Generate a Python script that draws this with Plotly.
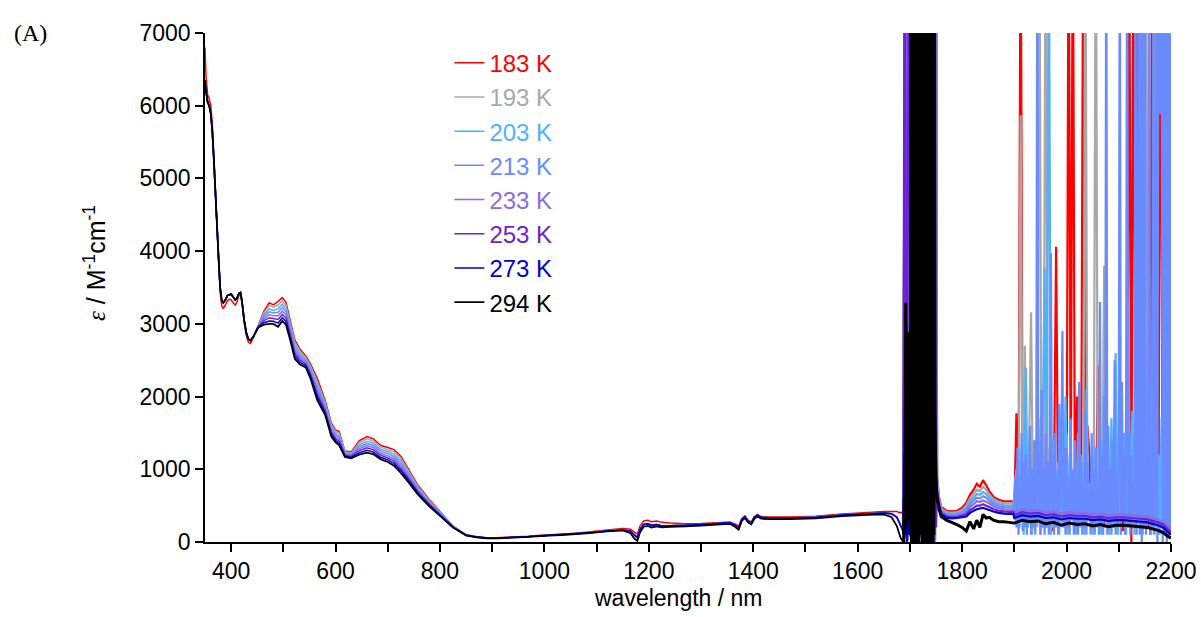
import plotly.graph_objects as go

# legend order (coldest first)
temps = ['183 K', '193 K', '203 K', '213 K', '233 K', '253 K', '273 K', '294 K']
colors = ['#FF0000', '#A8A8A8', '#4FB0FF', '#6A8BFF', '#8C6CE0', '#6B22D6', '#0000CC', '#000000']

# ---- UV edge, 350-437 nm
wl_uv = [350, 352, 355, 358, 361, 364, 367, 370, 373, 376, 379, 382, 385, 389,
         393, 397, 400, 404, 408, 411, 415, 418, 421, 425, 429, 433, 437]
eps_uv_183 = [6800, 6400, 6150, 6100, 6000, 5750, 5300, 4850, 4350, 3900, 3450, 3250, 3210, 3260,
              3320, 3340, 3330, 3290, 3260, 3300, 3390, 3420, 3280, 3020, 2840, 2750, 2730]
eps_uv = [6350, 6200, 6050, 6000, 5900, 5650, 5250, 4800, 4350, 3900, 3500, 3320, 3290, 3330,
          3390, 3400, 3410, 3370, 3330, 3350, 3420, 3430, 3300, 3050, 2880, 2790, 2770]

# ---- visible bands, 442-850 nm (temperature dependent)
wl_vis = [442, 452, 463, 473, 481, 490, 498, 505, 513, 522, 532, 543, 552, 565, 580, 592, 600,
          607, 618, 630, 645, 660, 672, 686, 700, 712, 725, 740, 758, 778, 800, 825, 850]
eps_vis_183 = [2800, 2980, 3180, 3290, 3260, 3310, 3360, 3300, 3050, 2780, 2650, 2560, 2450, 2250, 1950, 1640, 1540,
               1520, 1250, 1240, 1390, 1450, 1420, 1330, 1300, 1270, 1180, 1000, 780, 600, 420, 220, 100]
eps_vis_193 = [2805, 2975, 3155, 3250, 3225, 3260, 3315, 3255, 3010, 2745, 2620, 2535, 2420, 2205, 1920, 1615, 1515,
               1495, 1240, 1225, 1365, 1420, 1390, 1305, 1270, 1240, 1145, 975, 760, 585, 410, 215, 100]
eps_vis_203 = [2805, 2970, 3125, 3205, 3185, 3210, 3270, 3210, 2975, 2705, 2590, 2515, 2395, 2165, 1895, 1585, 1490,
               1465, 1225, 1215, 1335, 1385, 1360, 1275, 1245, 1205, 1115, 950, 745, 570, 405, 215, 95]
eps_vis_213 = [2810, 2965, 3100, 3165, 3150, 3160, 3225, 3165, 2935, 2670, 2560, 2490, 2365, 2120, 1865, 1560, 1465,
               1440, 1215, 1200, 1310, 1355, 1330, 1250, 1215, 1175, 1080, 925, 725, 555, 395, 210, 95]
eps_vis_233 = [2810, 2965, 3070, 3125, 3110, 3110, 3175, 3125, 2895, 2630, 2530, 2470, 2335, 2080, 1835, 1530, 1445,
               1410, 1205, 1190, 1280, 1325, 1300, 1220, 1185, 1145, 1050, 895, 705, 545, 385, 210, 95]
eps_vis_253 = [2815, 2960, 3045, 3085, 3075, 3060, 3130, 3080, 2855, 2595, 2500, 2445, 2305, 2035, 1805, 1505, 1420,
               1385, 1195, 1175, 1255, 1295, 1270, 1195, 1155, 1115, 1015, 870, 685, 530, 375, 205, 95]
eps_vis_273 = [2815, 2955, 3015, 3040, 3035, 3010, 3085, 3035, 2820, 2555, 2470, 2425, 2280, 1995, 1780, 1475, 1395,
               1355, 1180, 1165, 1225, 1260, 1240, 1165, 1130, 1080, 985, 845, 670, 515, 370, 205, 90]
eps_vis_294 = [2820, 2950, 2990, 3000, 3000, 2960, 3040, 2990, 2780, 2520, 2440, 2400, 2250, 1950, 1750, 1450, 1370,
               1330, 1170, 1150, 1200, 1230, 1210, 1140, 1100, 1050, 950, 820, 650, 500, 360, 200, 90]

# ---- NIR, 870-1687 nm
wl_nir = [870, 890, 910, 940, 970, 1000, 1040, 1080, 1120, 1150, 1165, 1172, 1178, 1183, 1190, 1198,
          1205, 1215, 1225, 1240, 1270, 1300, 1330, 1355, 1365, 1372, 1378, 1384, 1390, 1396, 1402,
          1408, 1415, 1430, 1470, 1520, 1570, 1620, 1650, 1665, 1675, 1682, 1687]
eps_nir_183 = [75, 60, 60, 70, 80, 95, 110, 135, 165, 185, 175, 140, 110, 220, 290, 300,
               280, 290, 270, 260, 250, 255, 265, 275, 250, 220, 320, 360, 300, 275, 350,
               380, 350, 345, 345, 355, 385, 405, 420, 420, 420, 400, 420]
eps_nir = [70, 55, 55, 65, 75, 90, 105, 125, 150, 165, 150, 100, 60, 170, 240, 250,
           230, 240, 220, 225, 230, 240, 255, 265, 235, 200, 310, 350, 290, 260, 340,
           370, 340, 330, 330, 340, 370, 390, 400, 390, 340, 230, 150]
eps_nir_294 = [65, 50, 50, 60, 70, 85, 100, 120, 145, 160, 120, 50, 15, 130, 210, 220,
               200, 215, 200, 210, 215, 225, 240, 250, 210, 170, 290, 330, 270, 240, 320,
               350, 320, 315, 315, 325, 355, 375, 380, 340, 220, 60, 0]

# ---- detector-saturated band, 1688-1751 nm
wl_band = list(range(1688, 1751, 2))
eps_band = [700, 9000, 60, 9000, 20, 9000, 80, 9000, 10, 9000, 40, 9000, 0, 9000, 30, 9000,
            70, 9000, 10, 9000, 50, 9000, 0, 9000, 20, 9000, 60, 9000, 30, 9000, 10, 9000]
wl_band_253 = list(range(1690, 1751, 4))
eps_band_253 = [9000, 100, 9000, 50, 9000, 0, 9000, 150, 9000, 20, 9000, 80, 9000, 0, 9000, 200]
wl_band_fine = list(range(1688, 1752))
eps_band_273 = [100, 1200, 300, 2600, 100, 3000, 0, 1800, 200, 2400, 100, 1500, 300, 2500, 100, 1500,
                0, 9000, 9000, 200, 1800, 0, 1200, 100, 2200, 0, 900, 100, 1600, 0, 1100, 200,
                9000, 9000, 100, 1500, 0, 800, 200, 2000, 0, 1300, 100, 700, 0, 9000, 9000, 200,
                1400, 0, 1000, 100, 2300, 0, 900, 100, 1700, 0, 1200, 9000, 1500, 1000, 800, 650]
eps_band_294 = [0, 600, 100, 1500, 3290, 200, 1200, 400, 2000, 300, 2890, 500, 400, 100, 9000, 0,
                9000, 200, 300, 9000, 0, 9000, 100, 9000, 0, 9000, 50, 9000, 0, 9000, 100, 9000,
                200, 100, 9000, 0, 9000, 50, 9000, 0, 9000, 100, 9000, 0, 9000, 200, 300, 9000,
                0, 9000, 100, 9000, 0, 9000, 50, 9000, 0, 9000, 100, 9000, 1800, 1200, 900, 700]

# ---- 1752-1898 nm
wl_post = [1752, 1756, 1760, 1770, 1780, 1790, 1800, 1808, 1815, 1822, 1828, 1834, 1840, 1846,
           1852, 1860, 1870, 1880, 1890, 1898]
eps_post_183 = [900, 600, 480, 430, 420, 430, 470, 540, 650, 720, 800, 760, 850, 780, 700, 620, 580, 560, 560, 560]
eps_post_193 = [850, 580, 460, 410, 400, 410, 440, 500, 600, 660, 720, 700, 760, 720, 650, 590, 550, 530, 530, 530]
eps_post_203 = [800, 560, 440, 395, 385, 395, 420, 470, 560, 610, 660, 650, 690, 660, 610, 560, 520, 505, 500, 500]
eps_post_213 = [780, 540, 425, 380, 370, 380, 400, 440, 520, 570, 610, 600, 630, 610, 570, 530, 495, 480, 475, 475]
eps_post_233 = [750, 520, 410, 365, 355, 360, 380, 410, 480, 520, 560, 550, 570, 555, 530, 495, 465, 450, 445, 445]
eps_post_253 = [700, 500, 395, 350, 340, 345, 360, 380, 440, 470, 500, 500, 520, 500, 480, 455, 430, 420, 415, 415]
eps_post_273 = [650, 480, 380, 335, 325, 330, 340, 350, 400, 430, 450, 460, 470, 455, 440, 420, 400, 390, 385, 385]
eps_post_294 = [600, 450, 350, 300, 270, 240, 200, 150, 280, 180, 300, 200, 380, 330, 340, 300, 280, 280, 270, 260]

# ---- noisy tail 1900-2200 nm, cold series
wl_noise = list(range(1900, 2201, 4))
eps_noise_183 = [450, 1770, 300, 9000, 500, 1830, 350, 900, 250, 700,
                 400, 1100, 300, 800, 200, 1200, 350, 700, 150, 900,
                 4060, 300, 1300, 400, 600, 250, 9000, 500, 9000, 400,
                 2000, 300, 800, 9000, 350, 1600, 1170, 200, 700, 300,
                 2430, 400, 600, 200, 800, 350, 500, 960, 200, 500,
                 300, 700, 150, 600, 300, 9000, 0, 9000, 400, 9000,
                 300, 1200, 400, 800, 200, 600, 9000, 300, 1000, 300,
                 9000, 400, 700, 200, 300, 150]
eps_noise_193 = [600, 1000, 300, 5870, 400, 2700, 200, 1200, 3160, 300,
                 800, 200, 9000, 400, 1000, 9000, 300, 1300, 200, 700,
                 400, 1100, 200, 800, 300, 1500, 200, 600, 300, 1000,
                 200, 700, 300, 500, 9000, 400, 800, 200, 600, 9000,
                 300, 1200, 200, 3800, 300, 800, 200, 1000, 300, 700,
                 200, 1300, 300, 900, 200, 1500, 300, 1000, 200, 800,
                 300, 1600, 200, 9000, 300, 1100, 200, 9000, 300, 1200,
                 200, 700, 300, 900, 200, 300]
wl_noise_203 = list(range(1902, 2199, 4))
eps_noise_203 = [300, 1100, 200, 1300, 100, 2400, 200, 1500, 100, 1000,
                 300, 1700, 100, 1200, 3760, 200, 9000, 100, 1400, 300,
                 1000, 100, 1600, 200, 2000, 100, 1200, 300, 900, 100,
                 1500, 200, 1100, 100, 2100, 300, 800, 100, 1300, 200,
                 1000, 100, 1400, 300, 900, 100, 1700, 200, 2600, 100,
                 1100, 300, 1500, 100, 3300, 200, 1800, 100, 2200, 300,
                 1400, 100, 2700, 200, 1600, 100, 2000, 300, 1200, 100,
                 1700, 200, 900, 100, 300]
wl_noise_213 = list(range(1900, 2201, 2))
eps_noise_213 = [500, 900, 200, 1300, 100, 800, 300, 1500, 150, 1100,
                 200, 1200, 100, 900, 300, 1600, 100, 1000, 200, 1400,
                 100, 800, 9000, 300, 1200, 100, 2090, 200, 1000, 100,
                 1500, 200, 1100, 100, 800, 3970, 300, 1200, 100, 1500,
                 200, 900, 100, 1900, 300, 1100, 2900, 200, 1300, 100,
                 1300, 200, 800, 100, 1700, 300, 1000, 100, 1400, 200,
                 900, 100, 2200, 300, 1200, 100, 800, 200, 1800, 100,
                 1100, 300, 700, 100, 1500, 200, 1000, 100, 1300, 300,
                 800, 100, 3300, 200, 1200, 100, 2000, 300, 9000, 100,
                 1600, 200, 1000, 100, 1400, 300, 2500, 100, 900, 200,
                 1500, 9000, 100, 2200, 300, 1200, 100, 1800, 9000, 200,
                 1500, 100, 1200, 300, 800, 200, 9000, 100, 600, 9000,
                 100, 9000, 0, 9000, 200, 9000, 100, 1500, 300, 9000,
                 100, 800, 200, 9000, 100, 600, 9000, 0, 9000, 5900,
                 5900, 9000, 0, 9000, 100, 9000, 0, 9000, 50, 9000,
                 200]

# ---- tail 1900-2200 nm, warm series
wl_tail = [1900, 1915, 1930, 1945, 1960, 1975, 1990, 2005, 2020, 2035, 2050, 2065,
           2080, 2095, 2110, 2125, 2140, 2155, 2165, 2175, 2185, 2192, 2200]
eps_tail_233 = [410, 450, 430, 440, 410, 420, 390, 410, 400, 400, 380, 390,
                370, 380, 380, 370, 360, 350, 330, 310, 280, 230, 160]
eps_tail_253 = [370, 410, 390, 400, 370, 380, 350, 370, 360, 360, 340, 350,
                330, 340, 340, 330, 320, 310, 290, 270, 240, 190, 130]
eps_tail_273 = [330, 370, 350, 360, 330, 340, 310, 330, 320, 320, 300, 310,
                290, 300, 300, 290, 280, 270, 250, 230, 200, 150, 100]
eps_tail_294 = [260, 300, 280, 290, 250, 270, 230, 260, 240, 250, 220, 240,
                210, 230, 230, 220, 210, 200, 180, 160, 130, 90, 50]

series = {
    '183 K': (eps_uv_183, eps_vis_183, eps_nir_183, wl_band, eps_band, eps_post_183, wl_noise, eps_noise_183),
    '193 K': (eps_uv, eps_vis_193, eps_nir, wl_band, eps_band, eps_post_193, wl_noise, eps_noise_193),
    '203 K': (eps_uv, eps_vis_203, eps_nir, wl_band, eps_band, eps_post_203, wl_noise_203, eps_noise_203),
    '213 K': (eps_uv, eps_vis_213, eps_nir, wl_band, eps_band, eps_post_213, wl_noise_213, eps_noise_213),
    '233 K': (eps_uv, eps_vis_233, eps_nir, wl_band, eps_band, eps_post_233, wl_tail, eps_tail_233),
    '253 K': (eps_uv, eps_vis_253, eps_nir, wl_band_253, eps_band_253, eps_post_253, wl_tail, eps_tail_253),
    '273 K': (eps_uv, eps_vis_273, eps_nir, wl_band_fine, eps_band_273, eps_post_273, wl_tail, eps_tail_273),
    '294 K': (eps_uv, eps_vis_294, eps_nir_294, wl_band_fine, eps_band_294, eps_post_294, wl_tail, eps_tail_294),
}

fig = go.Figure()
for i, name in enumerate(temps):
    uv, vis, nir, wb, band, post, wt, tail = series[name]
    label = f'<span style="color:{colors[i]}">{name}</span>'
    # smooth part of the spectrum
    fig.add_trace(go.Scatter(
        x=wl_uv + wl_vis + wl_nir, y=uv + vis + nir, mode='lines',
        name=label, legendgroup=name,
        line=dict(color=colors[i], width=1.8 if name == '294 K' else 1.5, simplify=False),
    ))
    # noisy part (detector change-over and beyond), drawn a bit heavier
    fig.add_trace(go.Scatter(
        x=wl_nir[-1:] + wb + wl_post + wt, y=nir[-1:] + band + post + tail, mode='lines',
        name=label, legendgroup=name, showlegend=False,
        line=dict(color=colors[i], width=3 if name == '294 K' else 2.2, simplify=False),
    ))

font = 'Arial, Liberation Sans, sans-serif'
axis_style = dict(showline=True, linecolor='black', linewidth=1.5,
                  ticks='outside', ticklen=8, tickwidth=1.5, tickcolor='black',
                  showgrid=False, zeroline=False, automargin=False)
fig.update_layout(
    width=1201, height=617,
    margin=dict(l=205, r=30, t=33, b=75),
    paper_bgcolor='white', plot_bgcolor='white',
    font=dict(family=font, size=23, color='black'),
    showlegend=True,
    legend=dict(x=0.253, y=0.985, xanchor='left', yanchor='top',
                bgcolor='rgba(0,0,0,0)', font=dict(size=24, family=font),
                traceorder='normal', tracegroupgap=0),
    xaxis=dict(range=[350, 2200], tick0=0, dtick=200,
               minor=dict(dtick=100, ticks='outside', ticklen=8, tickwidth=1.5, tickcolor='black'),
               **axis_style),
    yaxis=dict(range=[0, 7000], dtick=1000, **axis_style),
    annotations=[
        dict(text='(A)', xref='paper', yref='paper', x=-0.2, y=1.0,
             xanchor='left', yanchor='middle', showarrow=False,
             font=dict(family='Liberation Serif, Times New Roman, serif', size=24)),
        dict(text='wavelength / nm', xref='paper', yref='paper', x=0.49, y=-0.11,
             xanchor='center', yanchor='middle', showarrow=False, font=dict(size=23)),
        dict(text='<span style="font-family:Liberation Serif"><i>ε</i></span>'
                  ' / M<sup>-1</sup>cm<sup>-1</sup>',
             xref='paper', yref='paper', x=-0.114, y=0.548, textangle=-90,
             xanchor='center', yanchor='middle', showarrow=False, font=dict(size=25)),
    ],
)

# drop the default 8px page margin so the figure fills the window exactly
fig.write_html("out.html", config={'displayModeBar': False},
               post_script="document.body.style.margin='0';document.body.style.overflow='hidden';")
